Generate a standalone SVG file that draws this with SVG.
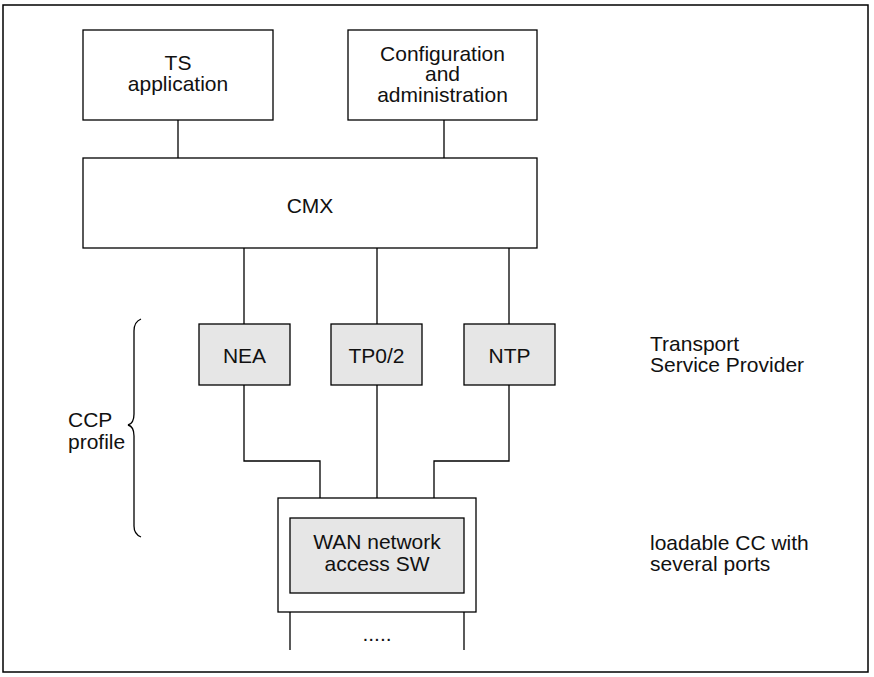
<svg xmlns="http://www.w3.org/2000/svg" width="874" height="677" viewBox="0 0 874 677">
<style>
.box{fill:#ffffff;stroke:#000;stroke-width:1.3}
.gbox{fill:#e6e6e6;stroke:#000;stroke-width:1.3}
.ln{fill:none;stroke:#000;stroke-width:1.3}
text{font-family:"Liberation Sans",Arial,sans-serif;font-size:21px;fill:#111}
.c{text-anchor:middle}
</style>
<rect x="0" y="0" width="874" height="677" fill="#fff"/>
<rect id="frame" x="3" y="5" width="865" height="667" fill="none" stroke="#000" stroke-width="1.5"/>
<g id="connectors">
<path class="ln" d="M178,120 V158"/>
<path class="ln" d="M444,120 V158"/>
<path class="ln" d="M244,248 V324"/>
<path class="ln" d="M377,248 V324"/>
<path class="ln" d="M509,248 V324"/>
<path class="ln" d="M244,385 V461 H320 V498"/>
<path class="ln" d="M377,385 V498"/>
<path class="ln" d="M509,385 V461 H434 V498"/>
<path class="ln" d="M290,612 V650"/>
<path class="ln" d="M464,612 V650"/>
</g>
<g id="ts-application">
<rect class="box" x="83" y="30" width="190" height="90"/>
<text class="c" x="178" y="70">TS</text>
<text class="c" x="178" y="91">application</text>
</g>
<g id="config-admin">
<rect class="box" x="348" y="30" width="189" height="90"/>
<text class="c" x="442.5" y="60.5">Configuration</text>
<text class="c" x="442.5" y="81">and</text>
<text class="c" x="442.5" y="101.5">administration</text>
</g>
<g id="cmx">
<rect class="box" x="83" y="158" width="454" height="90"/>
<text class="c" x="310" y="213">CMX</text>
</g>
<g id="nea">
<rect class="gbox" x="199" y="324" width="91" height="61"/>
<text class="c" x="244.5" y="363">NEA</text>
</g>
<g id="tp02">
<rect class="gbox" x="331" y="324" width="91" height="61"/>
<text class="c" x="376.5" y="363">TP0/2</text>
</g>
<g id="ntp">
<rect class="gbox" x="464" y="324" width="91" height="61"/>
<text class="c" x="509.5" y="363">NTP</text>
</g>
<g id="wan">
<rect class="box" x="278" y="498" width="198" height="114"/>
<rect class="gbox" x="290" y="518" width="174" height="75"/>
<text class="c" x="377" y="549">WAN network</text>
<text class="c" x="377" y="571">access SW</text>
<text class="c" x="377" y="641">.....</text>
</g>
<g id="ccp-profile">
<path class="ln" stroke-width="1" d="M141,319 C136,321 134,325 134,331 L134,414 C134,420 132,424 128,425 C132,426 134,430 134,436 L134,526 C134,532 136,535 141,537"/>
<text x="68" y="427">CCP</text>
<text x="68" y="448.5">profile</text>
</g>
<g id="tsp-label">
<text x="650" y="351">Transport</text>
<text x="650" y="372">Service Provider</text>
</g>
<g id="cc-label">
<text x="650" y="550">loadable CC with</text>
<text x="650" y="571">several ports</text>
</g>
</svg>
